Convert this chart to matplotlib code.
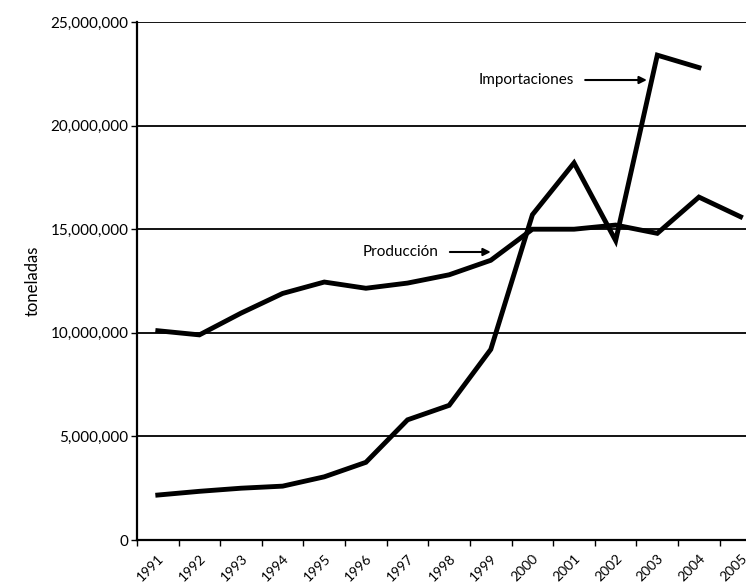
import matplotlib.pyplot as plt
from matplotlib.ticker import FuncFormatter

# years shown on the category axis
years = list(range(1991, 2006))

# tonnes
produccion = [10100000, 9900000, 10950000, 11900000, 12450000, 12150000, 12400000,
              12800000, 13500000, 15000000, 15000000, 15200000, 14800000, 16550000, 15600000]
importaciones = [2170000, 2350000, 2500000, 2600000, 3050000, 3750000, 5800000,
                 6500000, 9200000, 15700000, 18200000, 14450000, 23400000, 22800000]

plt.rcParams['font.family'] = ['Lato', 'DejaVu Sans']

fig = plt.figure(figsize=(7.46, 5.85), dpi=100)
ax = fig.add_axes([0.1836, 0.0769, 0.837, 0.8855])

# horizontal grid lines
for v in range(5000000, 25000001, 5000000):
    ax.axhline(v, color='black', lw=1.3, zorder=1)

ax.plot(years, produccion, color='black', lw=3.5, solid_joinstyle='miter', zorder=3)
ax.plot(years[:len(importaciones)], importaciones, color='black', lw=3.5,
        solid_joinstyle='miter', zorder=3)

ax.set_xlim(1990.5, 2005.5)
ax.set_ylim(0, 25000000)

ax.set_yticks(range(0, 25000001, 5000000))
ax.yaxis.set_major_formatter(FuncFormatter(lambda v, p: '{:,}'.format(int(v))))
ax.tick_params(axis='y', length=4, width=1, labelsize=11, pad=2)

# tick marks between categories, labels on categories
ax.set_xticks([y + 0.5 for y in years[:-1]] + [1990.5])
ax.set_xticklabels([])
ax.set_xticks(years, minor=True)
ax.set_xticklabels([str(y) for y in years], minor=True, rotation=45,
                   ha='right', rotation_mode='anchor', fontsize=10)
ax.tick_params(axis='x', which='major', length=4, width=1)
ax.tick_params(axis='x', which='minor', length=0, pad=9)

for s in ['top', 'right']:
    ax.spines[s].set_visible(False)
for s in ['left', 'bottom']:
    ax.spines[s].set_linewidth(1.6)

ax.set_ylabel('toneladas', fontsize=12, labelpad=7)

ax.annotate('Importaciones', xy=(2002.75, 22200000), xytext=(2001.0, 22200000),
            fontsize=11, ha='right', va='center',
            arrowprops=dict(arrowstyle='-|>', color='black', lw=1.5, shrinkA=6, shrinkB=0))
ax.annotate('Producción', xy=(1999.0, 13900000), xytext=(1997.75, 13900000),
            fontsize=11, ha='right', va='center',
            arrowprops=dict(arrowstyle='-|>', color='black', lw=1.5, shrinkA=6, shrinkB=0))

fig.savefig('out.png', dpi=100)
